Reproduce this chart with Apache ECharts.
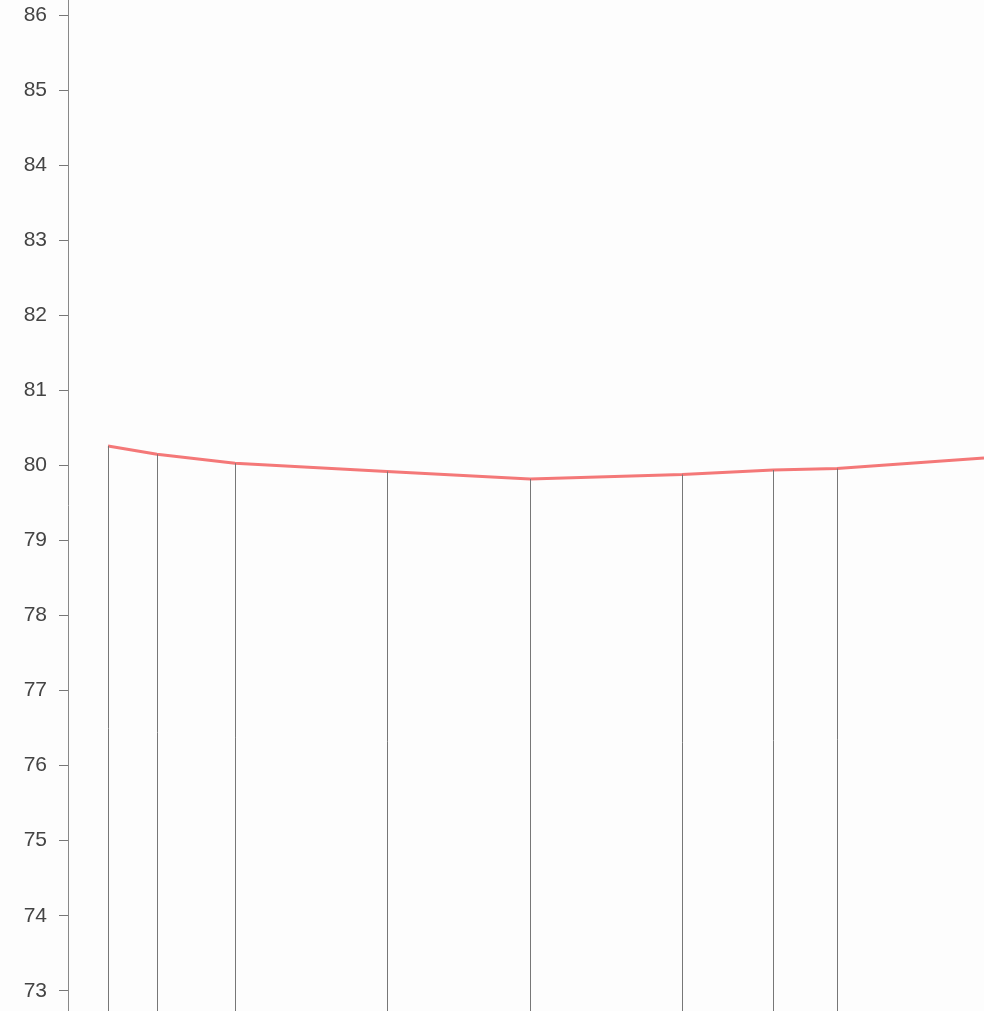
<!DOCTYPE html>
<html>
<head>
<meta charset="utf-8">
<script src="https://cdn.jsdelivr.net/npm/echarts@6/dist/echarts.min.js"></script>
<style>html,body{margin:0;padding:0;background:#fdfdfd;}#c{width:984px;height:1011px;}</style>
</head>
<body>
<div id="c"></div>
<script>
// x positions (arbitrary units along a hidden horizontal axis)
var xPositions = [40, 89, 167, 319, 462, 614, 705, 769, 916];
var yValues = [80.26, 80.15, 80.03, 79.92, 79.82, 79.88, 79.94, 79.96, 80.10];
// which points carry a drop line
var dropFlags = [1, 1, 1, 1, 1, 1, 1, 1, 0];
var yTicks = [73, 74, 75, 76, 77, 78, 79, 80, 81, 82, 83, 84, 85, 86];
var yMin = 72.73, yMax = 86.204;

var pts = xPositions.map(function (x, i) { return [x, yValues[i]]; });
var drops = [];
pts.forEach(function (p, i) {
  if (dropFlags[i]) drops.push([{ coord: [p[0], yMin] }, { coord: [p[0], p[1]] }]);
});

var chart = echarts.init(document.getElementById('c'));
chart.setOption({
  animation: false,
  backgroundColor: '#fdfdfd',
  grid: { left: 68, top: 0, right: 0, bottom: 0, containLabel: false },
  xAxis: {
    type: 'value', min: 0, max: 916,
    show: false
  },
  yAxis: {
    type: 'value',
    min: yMin, max: yMax,
    axisLine: { show: true, lineStyle: { color: '#888', width: 1 } },
    axisTick: { show: true, length: 9, customValues: yTicks, lineStyle: { color: '#777', width: 1 } },
    axisLabel: { margin: 21, color: '#444', fontSize: 21, customValues: yTicks, fontFamily: 'Liberation Sans, Arial, sans-serif' },
    splitLine: { show: false }
  },
  series: [{
    type: 'line',
    data: pts,
    symbol: 'none',
    clip: true,
    lineStyle: { color: '#f47878', width: 3 },
    markLine: {
      silent: true,
      symbol: ['none', 'none'],
      label: { show: false },
      lineStyle: { color: '#777', width: 1, type: 'solid' },
      data: drops
    }
  }]
});
</script>
</body>
</html>
